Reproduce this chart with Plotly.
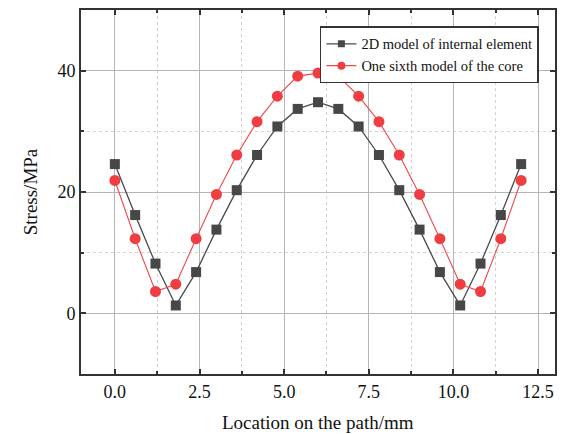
import plotly.graph_objects as go

x_pos = [0.0, 0.6, 1.2, 1.8, 2.4, 3.0, 3.6, 4.2, 4.8, 5.4, 6.0,
         6.6, 7.2, 7.8, 8.4, 9.0, 9.6, 10.2, 10.8, 11.4, 12.0]
stress_2d = [24.6, 16.2, 8.2, 1.3, 6.8, 13.8, 20.3, 26.1, 30.8, 33.7, 34.8,
             33.7, 30.8, 26.1, 20.3, 13.8, 6.8, 1.3, 8.2, 16.2, 24.6]
stress_sixth = [21.9, 12.3, 3.6, 4.8, 12.3, 19.6, 26.1, 31.6, 35.8, 39.1, 39.6,
                39.1, 35.8, 31.6, 26.1, 19.6, 12.3, 4.8, 3.6, 12.3, 21.9]
name_2d = "2D model of internal element"
name_sixth = "One sixth model of the core"
x_title = "Location on the path/mm"
y_title = "Stress/MPa"

FONT = "Liberation Serif, Times New Roman, serif"
C_2D = "#474747"
C_6 = "#ef3d42"

fig = go.Figure()
fig.add_trace(go.Scatter(
    x=x_pos, y=stress_2d, name=name_2d, mode="lines+markers", showlegend=False,
    line=dict(color="#4a4a4a", width=1.3),
    marker=dict(symbol="square", size=10, color=C_2D),
))
fig.add_trace(go.Scatter(
    x=x_pos, y=stress_sixth, name=name_sixth, mode="lines+markers", showlegend=False,
    line=dict(color="#f0484c", width=1.1),
    marker=dict(symbol="circle", size=11, color=C_6),
))
# legend entries (smaller symbols, like the reference legend)
fig.add_trace(go.Scatter(
    x=[None], y=[None], name=name_2d, mode="lines+markers",
    line=dict(color="#4a4a4a", width=1.3),
    marker=dict(symbol="square", size=7, color=C_2D),
))
fig.add_trace(go.Scatter(
    x=[None], y=[None], name=name_sixth, mode="lines+markers",
    line=dict(color="#f0484c", width=1.1),
    marker=dict(symbol="circle", size=8, color=C_6),
))

axis_common = dict(
    showline=True, linecolor="#333333", linewidth=1.8, mirror="ticks",
    ticks="inside", ticklen=5, tickwidth=1.5, tickcolor="#333333",
    showgrid=True, gridcolor="#b5b5b5", gridwidth=1,
    zeroline=False, automargin=False,
    tickfont=dict(family=FONT, size=18, color="#111111"),
)

fig.update_xaxes(
    range=[-1, 13], tick0=0, dtick=2.5, tickformat=".1f",
    minor=dict(dtick=1.25, tick0=0, ticks="inside", ticklen=3, tickcolor="#333333",
               showgrid=True, gridcolor="#d2d2d2", griddash="dot", gridwidth=1),
    **axis_common,
)
fig.update_yaxes(
    range=[-10, 50], tick0=0, dtick=20,
    title=dict(text=y_title,
               font=dict(family=FONT, size=19, color="#111111")),
    minor=dict(dtick=10, tick0=0, ticks="inside", ticklen=3, tickcolor="#333333",
               showgrid=True, gridcolor="#d2d2d2", griddash="dot", gridwidth=1),
    **axis_common,
)

fig.add_annotation(
    text=x_title, xref="paper", yref="paper", x=0.5, y=-0.132,
    xanchor="center", yanchor="middle", showarrow=False,
    font=dict(family=FONT, size=19, color="#111111"),
)

fig.update_layout(
    width=564, height=434,
    margin=dict(l=81, r=9, t=10, b=60),
    paper_bgcolor="white", plot_bgcolor="white",
    font=dict(family=FONT, color="#111111"),
    showlegend=True,
    legend=dict(
        x=0.966, y=0.955, xanchor="right", yanchor="top",
        bgcolor="white", bordercolor="#333333", borderwidth=1.5,
        font=dict(family=FONT, size=14.5, color="#111111"),
        tracegroupgap=0,
    ),
)

fig.write_html(
    "out.html",
    config={"displayModeBar": False},
    post_script="document.body.style.margin='0';document.body.style.overflow='hidden';",
)
